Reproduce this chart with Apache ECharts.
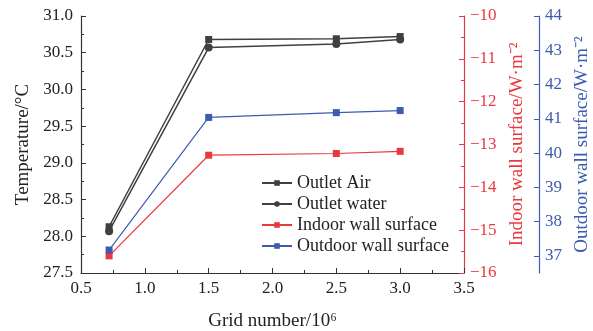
<!DOCTYPE html>
<html>
<head>
<meta charset="utf-8">
<script src="https://cdn.jsdelivr.net/npm/echarts@6/dist/echarts.min.js"></script>
<style>
  html, body { margin: 0; padding: 0; background: #ffffff; }
  #chart { width: 593px; height: 331px; }
</style>
</head>
<body>
<div id="chart"></div>
<script>
  // grid sizes (x10^6)
  const gridNumbers = [0.72, 1.5, 2.5, 3.0];
  const outletAir = [28.13, 30.68, 30.69, 30.72];
  const outletWater = [28.07, 30.57, 30.62, 30.68];
  const indoorWall = [-15.6, -13.25, -13.21, -13.16];
  const outdoorWall = [37.17, 41.04, 41.18, 41.24];
  const outdoorTicks = [37, 38, 39, 40, 41, 42, 43, 44];

  const font = 'Liberation Serif';
  const dark = '#404040';
  const red = '#e8393f';
  const blue = '#3d5caf';
  const labelSize = 17;
  const titleSize = 19;

  const pairs = (vals) => gridNumbers.map((x, i) => [x, vals[i]]);

  const axisBase = (color) => ({
    axisLine: { show: true, lineStyle: { color: color, width: 1.2 } },
    axisTick: { show: true, inside: true, length: 5, lineStyle: { color: color } },
    minorTick: { show: true, splitNumber: 2, length: 3, lineStyle: { color: color } },
    splitLine: { show: false },
  });

  const myChart = echarts.init(document.getElementById('chart'));
  myChart.setOption({
    animation: false,
    backgroundColor: '#ffffff',
    grid: { left: 81, right: 129, top: 16, bottom: 58, outerBoundsMode: 'none', containLabel: false },
    legend: {
      orient: 'vertical',
      left: 256,
      top: 169,
      itemGap: 3,
      itemWidth: 30,
      itemHeight: 7,
      textStyle: { fontFamily: font, fontSize: 18, color: '#222' },
      data: ['Outlet Air', 'Outlet water', 'Indoor wall surface', 'Outdoor wall surface'],
    },
    xAxis: {
      type: 'value',
      min: 0.5,
      max: 3.5,
      interval: 0.5,
      ...axisBase('#333'),
      axisLabel: { color: '#222', fontFamily: font, fontSize: labelSize, margin: 7, formatter: (v) => v.toFixed(1) },
      name: 'Grid number/10⁶',
      nameLocation: 'middle',
      nameGap: 39,
      nameTextStyle: { fontFamily: font, fontSize: titleSize, color: '#222' },
    },
    yAxis: [
      {
        type: 'value',
        min: 27.5,
        max: 31,
        interval: 0.5,
        ...axisBase('#333'),
        axisLabel: { color: '#222', fontFamily: font, fontSize: labelSize, margin: 8, formatter: (v) => v.toFixed(1) },
        name: 'Temperature/°C',
        nameLocation: 'middle',
        nameGap: 41,
        nameTextStyle: { fontFamily: font, fontSize: titleSize, color: '#222' },
      },
      {
        type: 'value',
        position: 'right',
        min: -16,
        max: -10,
        interval: 1,
        ...axisBase(red),
        axisLabel: { color: red, fontFamily: font, fontSize: labelSize, margin: 6, formatter: (v) => '\u2212' + Math.abs(v) },
        name: 'Indoor wall surface/W·m⁻²',
        nameLocation: 'middle',
        nameGap: 37,
        nameRotate: 90,
        nameTextStyle: { fontFamily: font, fontSize: titleSize, color: red },
      },
      {
        type: 'value',
        position: 'right',
        offset: 75,
        min: 36.5,
        max: 44,
        ...axisBase(blue),
        minorTick: { show: false },
        axisTick: { show: true, inside: true, length: 5, lineStyle: { color: blue }, customValues: outdoorTicks },
        axisLabel: { color: blue, fontFamily: font, fontSize: labelSize, margin: 6, customValues: outdoorTicks },
        name: 'Outdoor wall surface/W·m⁻²',
        nameLocation: 'middle',
        nameGap: 29,
        nameRotate: 90,
        nameTextStyle: { fontFamily: font, fontSize: titleSize, color: blue },
      },
    ],
    series: [
      {
        name: 'Outlet Air',
        type: 'line',
        yAxisIndex: 0,
        data: pairs(outletAir),
        symbol: 'rect',
        symbolSize: 7,
        itemStyle: { color: dark },
        lineStyle: { color: dark, width: 1.5 },
      },
      {
        name: 'Outlet water',
        type: 'line',
        yAxisIndex: 0,
        data: pairs(outletWater),
        symbol: 'circle',
        symbolSize: 8,
        itemStyle: { color: dark },
        lineStyle: { color: dark, width: 1.5 },
      },
      {
        name: 'Indoor wall surface',
        type: 'line',
        yAxisIndex: 1,
        data: pairs(indoorWall),
        symbol: 'rect',
        symbolSize: 7,
        itemStyle: { color: red },
        lineStyle: { color: red, width: 1.2 },
      },
      {
        name: 'Outdoor wall surface',
        type: 'line',
        yAxisIndex: 2,
        data: pairs(outdoorWall),
        symbol: 'rect',
        symbolSize: 7,
        itemStyle: { color: blue },
        lineStyle: { color: blue, width: 1.2 },
      },
    ],
  });
</script>
</body>
</html>
